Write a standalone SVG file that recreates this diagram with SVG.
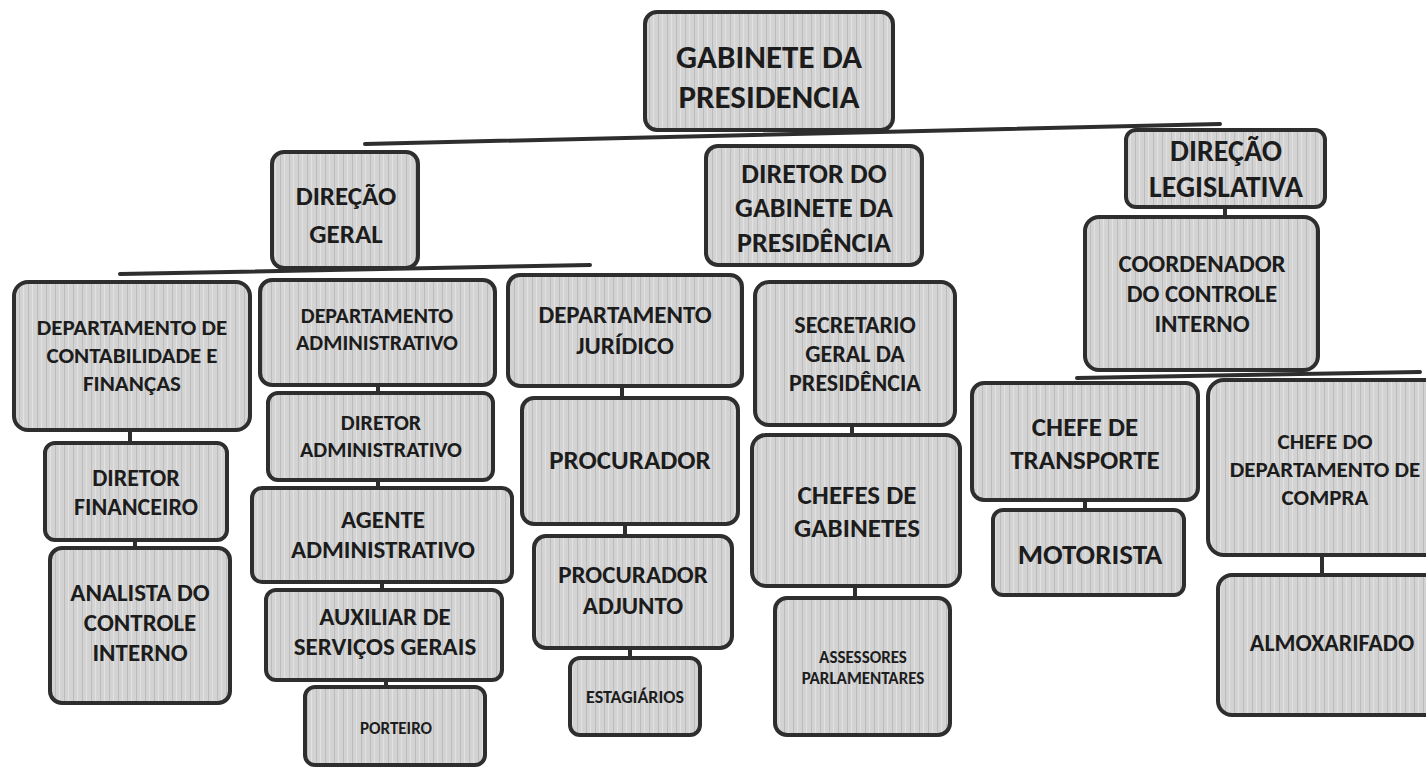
<svg xmlns="http://www.w3.org/2000/svg" width="1426" height="769" viewBox="0 0 1426 769">
<defs>
<pattern id="scan" width="9" height="9" patternUnits="userSpaceOnUse">
<rect width="9" height="9" fill="#d3d3d3"/>
<rect x="1" width="1" height="9" fill="#bcbcbc"/>
<rect x="5" width="1" height="9" fill="#e2e2e2"/>
</pattern>
</defs>
<style>
.box{fill:url(#scan);stroke:#2e2e2e;stroke-width:4}
.t{font-family:Carlito,Lato,"Open Sans","Liberation Sans",sans-serif;font-weight:700;fill:#1c1c1c;text-anchor:middle}
.ln{stroke:#2e2e2e;stroke-width:4;fill:none;stroke-linecap:round}
</style>
<rect width="1426" height="769" fill="#ffffff"/>
<g id="connectors">
<line class="ln" x1="365" y1="144" x2="1220" y2="124"/>
<line class="ln" x1="120" y1="274" x2="590" y2="265"/>
<line class="ln" x1="1077" y1="378" x2="1420" y2="372"/>
<line class="ln" x1="130" y1="430" x2="130" y2="443"/>
<line class="ln" x1="135" y1="540" x2="135" y2="548"/>
<line class="ln" x1="378" y1="385" x2="378" y2="393"/>
<line class="ln" x1="378" y1="480" x2="378" y2="488"/>
<line class="ln" x1="382" y1="582" x2="382" y2="590"/>
<line class="ln" x1="386" y1="680" x2="386" y2="687"/>
<line class="ln" x1="622" y1="386" x2="622" y2="398"/>
<line class="ln" x1="625" y1="524" x2="625" y2="536"/>
<line class="ln" x1="630" y1="648" x2="630" y2="658"/>
<line class="ln" x1="852" y1="425" x2="852" y2="435"/>
<line class="ln" x1="855" y1="586" x2="855" y2="598"/>
<line class="ln" x1="1085" y1="500" x2="1085" y2="510"/>
<line class="ln" x1="1322" y1="555" x2="1322" y2="575"/>
<line class="ln" x1="1225" y1="207" x2="1225" y2="217"/>
</g>
<g id="n-gabinete"><rect class="box" x="645" y="12" width="248" height="118" rx="12"/>
<text class="t" x="769" y="68" font-size="33">GABINETE DA</text>
<text class="t" x="769" y="108" font-size="33">PRESIDENCIA</text></g>
<g id="n-direcao-geral"><rect class="box" x="272" y="152" width="146" height="116" rx="12"/>
<text class="t" x="346" y="205" font-size="27">DIREÇÃO</text>
<text class="t" x="346" y="243" font-size="27">GERAL</text></g>
<g id="n-diretor-gabinete"><rect class="box" x="706" y="146" width="216" height="119" rx="12"/>
<text class="t" x="814" y="183" font-size="28">DIRETOR DO</text>
<text class="t" x="814" y="217" font-size="28">GABINETE DA</text>
<text class="t" x="814" y="252" font-size="28">PRESIDÊNCIA</text></g>
<g id="n-direcao-legislativa"><rect class="box" x="1126" y="130" width="199" height="77" rx="10"/>
<text class="t" x="1226" y="161" font-size="30">DIREÇÃO</text>
<text class="t" x="1226" y="197" font-size="30">LEGISLATIVA</text></g>
<g id="n-coordenador"><rect class="box" x="1085" y="217" width="233" height="153" rx="14"/>
<text class="t" x="1202" y="272" font-size="25">COORDENADOR</text>
<text class="t" x="1202" y="302" font-size="25">DO CONTROLE</text>
<text class="t" x="1202" y="332" font-size="25">INTERNO</text></g>
<g id="n-dep-contabilidade"><rect class="box" x="14" y="282" width="236" height="148" rx="14"/>
<text class="t" x="132" y="335" font-size="23">DEPARTAMENTO DE</text>
<text class="t" x="132" y="363" font-size="23">CONTABILIDADE E</text>
<text class="t" x="132" y="391" font-size="23">FINANÇAS</text></g>
<g id="n-dep-administrativo"><rect class="box" x="260" y="280" width="235" height="105" rx="12"/>
<text class="t" x="377" y="323" font-size="22">DEPARTAMENTO</text>
<text class="t" x="377" y="350" font-size="22">ADMINISTRATIVO</text></g>
<g id="n-dep-juridico"><rect class="box" x="508" y="275" width="234" height="111" rx="12"/>
<text class="t" x="625" y="323" font-size="25">DEPARTAMENTO</text>
<text class="t" x="625" y="354" font-size="25">JURÍDICO</text></g>
<g id="n-secretario"><rect class="box" x="755" y="282" width="200" height="143" rx="14"/>
<text class="t" x="855" y="333" font-size="24">SECRETARIO</text>
<text class="t" x="855" y="362" font-size="24">GERAL DA</text>
<text class="t" x="855" y="391" font-size="24">PRESIDÊNCIA</text></g>
<g id="n-diretor-financeiro"><rect class="box" x="45" y="443" width="182" height="97" rx="10"/>
<text class="t" x="136" y="486" font-size="24">DIRETOR</text>
<text class="t" x="136" y="515" font-size="24">FINANCEIRO</text></g>
<g id="n-analista"><rect class="box" x="50" y="548" width="180" height="155" rx="12"/>
<text class="t" x="140" y="601" font-size="25">ANALISTA DO</text>
<text class="t" x="140" y="631" font-size="25">CONTROLE</text>
<text class="t" x="140" y="661" font-size="25">INTERNO</text></g>
<g id="n-diretor-administrativo"><rect class="box" x="268" y="393" width="225" height="87" rx="10"/>
<text class="t" x="381" y="430" font-size="22">DIRETOR</text>
<text class="t" x="381" y="457" font-size="22">ADMINISTRATIVO</text></g>
<g id="n-agente"><rect class="box" x="252" y="488" width="260" height="94" rx="10"/>
<text class="t" x="383" y="528" font-size="25">AGENTE</text>
<text class="t" x="383" y="558" font-size="25">ADMINISTRATIVO</text></g>
<g id="n-auxiliar"><rect class="box" x="266" y="590" width="236" height="90" rx="10"/>
<text class="t" x="385" y="625" font-size="25">AUXILIAR DE</text>
<text class="t" x="385" y="655" font-size="25">SERVIÇOS GERAIS</text></g>
<g id="n-porteiro"><rect class="box" x="305" y="687" width="180" height="78" rx="10"/>
<text class="t" x="396" y="734" font-size="17">PORTEIRO</text></g>
<g id="n-procurador"><rect class="box" x="522" y="398" width="216" height="126" rx="12"/>
<text class="t" x="630" y="469" font-size="27">PROCURADOR</text></g>
<g id="n-procurador-adjunto"><rect class="box" x="534" y="536" width="198" height="112" rx="12"/>
<text class="t" x="633" y="583" font-size="25">PROCURADOR</text>
<text class="t" x="633" y="614" font-size="25">ADJUNTO</text></g>
<g id="n-estagiarios"><rect class="box" x="570" y="658" width="130" height="77" rx="10"/>
<text class="t" x="635" y="703" font-size="18" font-weight="400">ESTAGIÁRIOS</text></g>
<g id="n-chefes-gabinetes"><rect class="box" x="752" y="435" width="208" height="151" rx="14"/>
<text class="t" x="857" y="504" font-size="27">CHEFES DE</text>
<text class="t" x="857" y="537" font-size="27">GABINETES</text></g>
<g id="n-assessores"><rect class="box" x="775" y="598" width="175" height="137" rx="12"/>
<text class="t" x="863" y="663" font-size="17">ASSESSORES</text>
<text class="t" x="863" y="684" font-size="17">PARLAMENTARES</text></g>
<g id="n-chefe-transporte"><rect class="box" x="972" y="383" width="226" height="117" rx="12"/>
<text class="t" x="1085" y="436" font-size="27">CHEFE DE</text>
<text class="t" x="1085" y="469" font-size="27">TRANSPORTE</text></g>
<g id="n-motorista"><rect class="box" x="993" y="510" width="191" height="85" rx="10"/>
<text class="t" x="1090" y="564" font-size="29">MOTORISTA</text></g>
<g id="n-chefe-compra"><rect class="box" x="1208" y="380" width="240" height="175" rx="16"/>
<text class="t" x="1325" y="449" font-size="23">CHEFE DO</text>
<text class="t" x="1325" y="477" font-size="23">DEPARTAMENTO DE</text>
<text class="t" x="1325" y="505" font-size="23">COMPRA</text></g>
<g id="n-almoxarifado"><rect class="box" x="1218" y="575" width="230" height="140" rx="14"/>
<text class="t" x="1332" y="651" font-size="24">ALMOXARIFADO</text></g>
</svg>
